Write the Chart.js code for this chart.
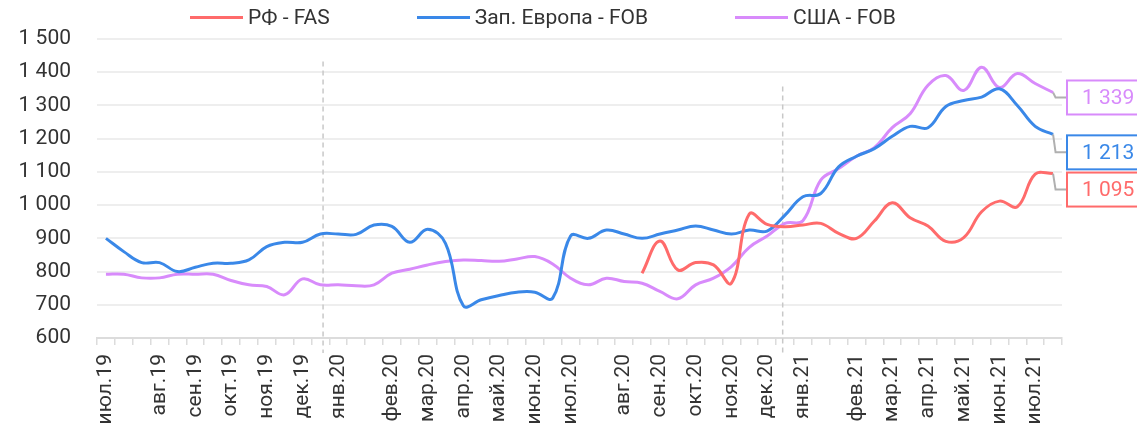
<!DOCTYPE html>
<html>
<head>
<meta charset="utf-8">
<script src="https://cdn.jsdelivr.net/npm/chart.js@4"></script>
<style>
    body { margin: 0; background: #fff; font-family: Roboto, sans-serif; }
    #wrap { position: relative; width: 1137px; height: 423px; overflow: hidden; }
    #legend { position: absolute; top: 3px; left: 190px; display: flex; gap: 87px; font-size: 21px; color: #333; line-height: 28px; }
    #legend .item { display: flex; align-items: center; white-space: nowrap; }
    #legend .mark { width: 53px; height: 3px; margin-right: 5px; }
</style>
</head>
<body>
<div id="wrap">
    <canvas id="priceChart" width="1137" height="423"></canvas>
    <div id="legend"></div>
</div>
<script>
const categories = [
    'июл.19', '', '', 'авг.19', '', 'сен.19', '', 'окт.19', '', 'ноя.19', '', 'дек.19', '',
    'янв.20', '', '', 'фев.20', '', 'мар.20', '', 'апр.20', '', 'май.20', '', 'июн.20', '',
    'июл.20', '', '', 'авг.20', '', 'сен.20', '', 'окт.20', '', 'ноя.20', '', 'дек.20', '',
    'янв.21', '', '', 'фев.21', '', 'мар.21', '', 'апр.21', '', 'май.21', '', 'июн.21', '',
    'июл.21', ''
];

const rfFas = [
    null, null, null, null, null, null, null, null, null, null,
    null, null, null, null, null, null, null, null, null, null,
    null, null, null, null, null, null, null, null, null, null,
    795, 892, 805, 827, 820, 765, 973, 942, 935, 940,
    945, 915, 900, 952, 1007, 962, 937, 891, 902, 980,
    1012, 995, 1093, 1095
];

const westEuropeFob = [
    900, 860, 827, 827, 800, 813, 825, 825, 835, 875,
    888, 888, 913, 913, 912, 940, 936, 888, 927, 885,
    697, 715, 728, 738, 738, 720, 907, 900, 925, 913,
    900, 913, 925, 937, 925, 913, 925, 922, 970, 1025,
    1035, 1115, 1147, 1170, 1207, 1237, 1233, 1297, 1315, 1325,
    1350, 1300, 1237, 1213
];

const usaFob = [
    792, 792, 781, 781, 792, 792, 792, 773, 760, 755,
    730, 778, 760, 760, 757, 760, 795, 807, 820, 830,
    835, 833, 831, 838, 845, 823, 780, 760, 780, 770,
    765, 740, 718, 760, 780, 815, 873, 907, 945, 953,
    1075, 1110, 1147, 1173, 1233, 1275, 1361, 1390, 1345, 1415,
    1354, 1396, 1366, 1339
];

const yTicks = [600, 700, 800, 900, 1000, 1100, 1200, 1300, 1400, 1500];

// year separators: position on the category axis and value where the dash starts
const yearBreaks = [12.15, 37.87];
const yearBreakTops = [1432, 1357];

const seriesNames = ['РФ - FAS', 'Зап. Европа - FOB', 'США - FOB'];
const seriesColors = ['#ff6b6b', '#3a88e8', '#d88bfb'];
const endLabelShift = [16, 18, 5];

const fmt = (v) => String(v).replace(/\B(?=(\d{3})+(?!\d))/g, ' ');

const yearBreakPlugin = {
    id: 'yearBreaks',
    beforeDatasetsDraw(chart) {
        const { ctx, scales: { x, y } } = chart;
        ctx.save();
        ctx.strokeStyle = '#c8c8c8';
        ctx.lineWidth = 1.5;
        ctx.setLineDash([5, 4]);
        yearBreaks.forEach((pos, i) => {
            const px = x.getPixelForValue(pos);
            ctx.beginPath();
            ctx.moveTo(px, y.getPixelForValue(yearBreakTops[i]));
            ctx.lineTo(px, y.bottom + 15);
            ctx.stroke();
        });
        ctx.restore();
    }
};

const endLabelPlugin = {
    id: 'endLabels',
    afterDatasetsDraw(chart) {
        const { ctx, chartArea } = chart;
        const boxLeft = chartArea.right + 5;
        ctx.save();
        chart.data.datasets.forEach((ds, i) => {
            const meta = chart.getDatasetMeta(i);
            const pt = meta.data[meta.data.length - 1];
            const ly = pt.y + endLabelShift[i];
            ctx.strokeStyle = '#b0b0b0';
            ctx.lineWidth = 2;
            ctx.setLineDash([]);
            ctx.beginPath();
            ctx.moveTo(pt.x, pt.y);
            ctx.lineTo(pt.x + 2.5, ly);
            ctx.lineTo(boxLeft, ly);
            ctx.stroke();

            ctx.fillStyle = '#fff';
            ctx.fillRect(boxLeft, ly - 17, 84, 34);
            ctx.strokeStyle = ds.borderColor;
            ctx.strokeRect(boxLeft, ly - 17, 84, 34);

            ctx.fillStyle = ds.borderColor;
            ctx.font = '21px Roboto';
            ctx.textBaseline = 'middle';
            ctx.textAlign = 'left';
            ctx.fillText(fmt(ds.data[ds.data.length - 1]), boxLeft + 15, ly + 1);
        });
        ctx.restore();
    }
};

Chart.defaults.font.family = 'Roboto';
Chart.defaults.font.size = 21;
Chart.defaults.color = '#333';

const datasets = [rfFas, westEuropeFob, usaFob].map((data, i) => ({
    label: seriesNames[i],
    data,
    borderColor: seriesColors[i],
    backgroundColor: seriesColors[i],
    borderWidth: 3,
    pointRadius: 0,
    tension: 0.4,
    fill: false
}));

const chart = new Chart(document.getElementById('priceChart'), {
    type: 'line',
    data: { labels: categories, datasets },
    options: {
        responsive: false,
        animation: false,
        layout: { padding: { top: 39, right: 75, left: 0, bottom: 0 } },
        plugins: {
            legend: { display: false },
            tooltip: { enabled: false }
        },
        scales: {
            x: {
                offset: true,
                grid: { offset: true, drawOnChartArea: false, drawTicks: true, tickLength: 7, color: '#dcdcdc', lineWidth: 1.5 },
                border: { color: '#dcdcdc', width: 2 },
                ticks: { autoSkip: false, maxRotation: 90, minRotation: 90, padding: 9, color: '#333' },
                afterFit: (axis) => { axis.height = 85; }
            },
            y: {
                min: yTicks[0],
                max: yTicks[yTicks.length - 1],
                afterBuildTicks: (axis) => { axis.ticks = yTicks.map((v) => ({ value: v })); },
                ticks: { padding: 26, color: '#333', callback: (v) => fmt(v) },
                grid: { color: '#eeeeee', lineWidth: 2, drawTicks: false },
                border: { display: false },
                afterFit: (axis) => { axis.width = 97; }
            }
        }
    },
    plugins: [yearBreakPlugin, endLabelPlugin]
});

document.getElementById('legend').innerHTML = seriesNames.map((name, i) => `
    <div class="item"><span class="mark" style="background:${seriesColors[i]}"></span>${name}</div>
`).join('');
</script>
</body>
</html>
